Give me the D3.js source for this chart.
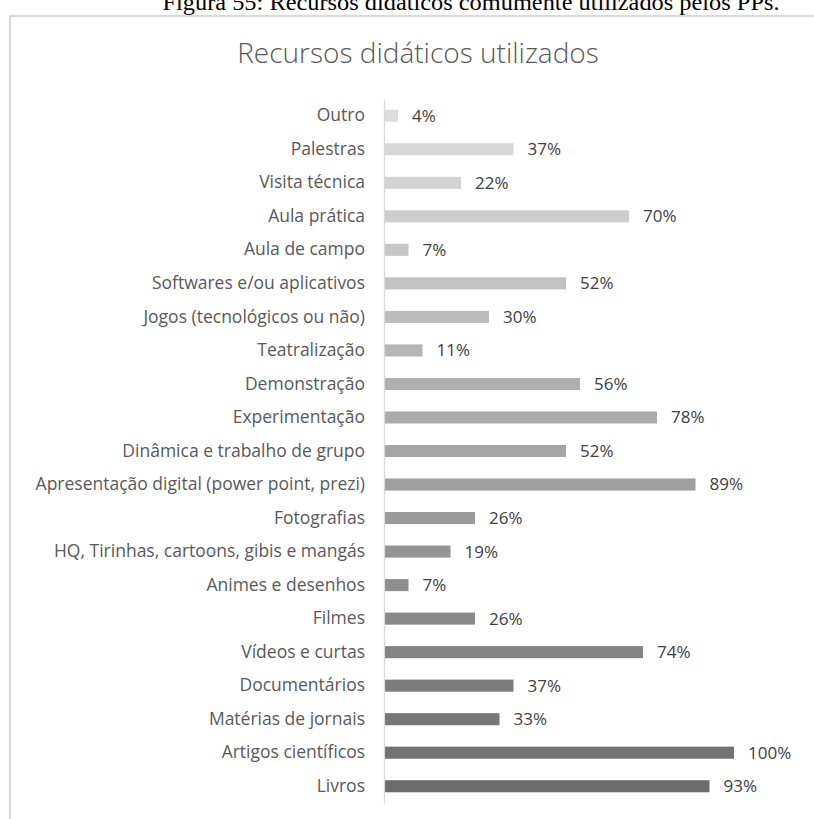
<!DOCTYPE html>
<html>
<head>
<meta charset="utf-8">
<script src="https://cdn.jsdelivr.net/npm/d3@7"></script>
<style>
  html, body { margin: 0; padding: 0; background: #ffffff; }
  svg { display: block; }
</style>
</head>
<body>
<script>
// Recursos didáticos — percentage of PPs using each resource
const categories = [
  "Outro",
  "Palestras",
  "Visita técnica",
  "Aula prática",
  "Aula de campo",
  "Softwares e/ou aplicativos",
  "Jogos (tecnológicos ou não)",
  "Teatralização",
  "Demonstração",
  "Experimentação",
  "Dinâmica e trabalho de grupo",
  "Apresentação digital (power point, prezi)",
  "Fotografias",
  "HQ, Tirinhas, cartoons, gibis e mangás",
  "Animes e desenhos",
  "Filmes",
  "Vídeos e curtas",
  "Documentários",
  "Matérias de jornais",
  "Artigos científicos",
  "Livros"
];
const values = [4, 37, 22, 70, 7, 52, 30, 11, 56, 78, 52, 89, 26, 19, 7, 26, 74, 37, 33, 100, 93];
const valueLabels = values.map(v => v + "%");

const caption = "Figura 55: Recursos didáticos comumente utilizados pelos PPs.";
const title = "Recursos didáticos utilizados";

const W = 814, H = 819;
const sans = "Open Sans, Lato, sans-serif";
const svg = d3.select("body").append("svg").attr("width", W).attr("height", H);

// figure caption (partly above the page edge)
svg.append("text")
  .attr("x", 471).attr("y", 10)
  .attr("text-anchor", "middle")
  .attr("font-family", "Liberation Serif, Times New Roman, serif")
  .attr("font-size", 23)
  .attr("textLength", 617)
  .attr("lengthAdjust", "spacingAndGlyphs")
  .attr("fill", "#000")
  .text(caption);

// chart frame
svg.append("rect")
  .attr("x", 10).attr("y", 16)
  .attr("width", W + 20).attr("height", H + 20)
  .attr("fill", "#fff")
  .attr("stroke", "#d9d9d9")
  .attr("stroke-width", 2);

// chart title
svg.append("text")
  .attr("x", 418).attr("y", 63)
  .attr("text-anchor", "middle")
  .attr("font-family", sans)
  .attr("font-weight", 300)
  .attr("font-size", 28)
  .attr("fill", "#595959")
  .text(title);

const x = d3.scaleLinear().domain([0, 100]).range([384, 734]);
const y = d3.scaleBand().domain(categories).range([99, 803])
  .paddingInner(0.64).paddingOuter(0.32);

// shades from light (first row) to dark (last row)
const shade = d3.scaleLinear()
  .domain([0, categories.length - 1])
  .range(["#dedede", "#6c6c6c"])
  .interpolate(d3.interpolateRgb);

svg.selectAll("rect.bar")
  .data(categories)
  .join("rect")
  .attr("class", "bar")
  .attr("x", x(0))
  .attr("y", d => y(d))
  .attr("width", (d, i) => x(values[i]) - x(0))
  .attr("height", y.bandwidth())
  .attr("fill", (d, i) => shade(i));

// category axis
const yAxis = d3.axisLeft(y).tickSize(0).tickPadding(19);
const gy = svg.append("g")
  .attr("transform", `translate(${x(0)},0)`)
  .call(yAxis);
gy.select(".domain").attr("stroke", "#d9d9d9").attr("stroke-width", 1.2);
gy.selectAll(".tick text")
  .attr("font-family", sans)
  .attr("font-size", 17.5)
  .attr("fill", "#595959");

// value labels
svg.selectAll("text.val")
  .data(categories)
  .join("text")
  .attr("class", "val")
  .attr("x", (d, i) => x(values[i]) + 14)
  .attr("y", d => y(d) + y.bandwidth() / 2)
  .attr("dy", "0.35em")
  .attr("font-family", sans)
  .attr("font-size", 17)
  .attr("fill", "#404040")
  .text((d, i) => valueLabels[i]);
</script>
</body>
</html>
